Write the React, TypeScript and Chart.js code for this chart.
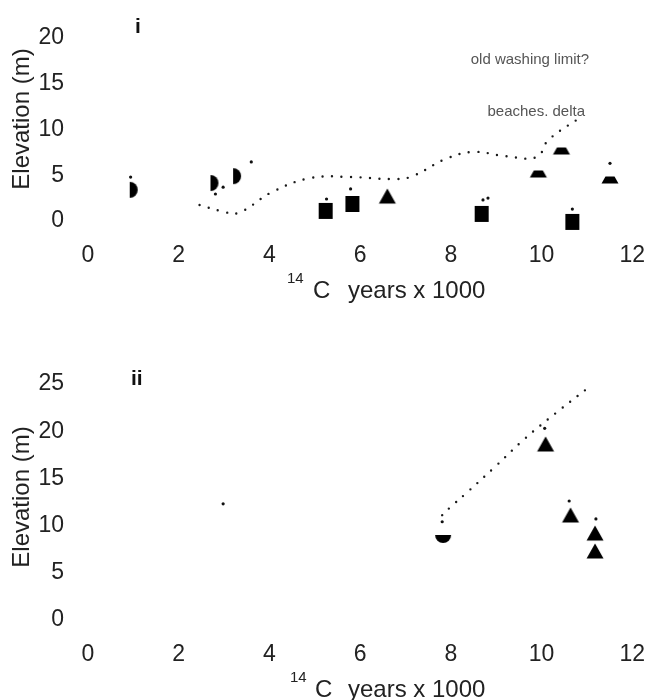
import React, { useEffect, useRef } from "react";
import { Chart, registerables } from "chart.js";

Chart.register(...registerables);

const FONT = "'Liberation Sans', Arial, Helvetica, sans-serif";
Chart.defaults.font.family = FONT;

// ---- axis ticks ----
const X_TICKS = [0, 2, 4, 6, 8, 10, 12];
const Y_TICKS_I = [0, 5, 10, 15, 20];
const Y_TICKS_II = [0, 5, 10, 15, 20, 25];

// ---- panel i data (14C years x 1000, elevation m) ----
const I_HALF_DISCS = [
  { x: 0.92, y: 3.4 },
  { x: 2.7, y: 4.15 },
  { x: 3.2, y: 4.9 },
];
const I_SQUARES = [
  { x: 5.24, y: 1.1 },
  { x: 5.83, y: 1.86 },
  { x: 8.68, y: 0.77 },
  { x: 10.68, y: -0.1 },
];
const I_TRIANGLES = [{ x: 6.6, y: 2.73 }];
const I_TRAPEZOIDS = [
  { x: 9.93, y: 5.14 },
  { x: 10.44, y: 7.65 },
  { x: 11.51, y: 4.48 },
];
const I_DOTS = [
  { x: 0.94, y: 4.8 },
  { x: 2.81, y: 2.95 },
  { x: 2.98, y: 3.7 },
  { x: 3.6, y: 6.45 },
  { x: 5.26, y: 2.4 },
  { x: 5.79, y: 3.5 },
  { x: 8.71, y: 2.3 },
  { x: 8.82, y: 2.5 },
  { x: 10.68, y: 1.3 },
  { x: 11.51, y: 6.3 },
];
const I_CURVE = [
  { x: 2.46, y: 1.75 },
  { x: 2.94, y: 1.09 },
  { x: 3.31, y: 0.87 },
  { x: 4.06, y: 3.17 },
  { x: 4.91, y: 4.7 },
  { x: 5.79, y: 4.81 },
  { x: 6.67, y: 4.59 },
  { x: 7.11, y: 4.81 },
  { x: 7.89, y: 6.78 },
  { x: 8.5, y: 7.55 },
  { x: 9.19, y: 7.1 },
  { x: 9.9, y: 7.0 },
  { x: 10.15, y: 8.85 },
  { x: 10.88, y: 11.4 },
];

// ---- panel ii data ----
const II_HALF_DISCS = [{ x: 7.83, y: 9.0 }];
const II_TRIANGLES = [
  { x: 10.09, y: 18.64 },
  { x: 10.64, y: 11.12 },
  { x: 11.18, y: 9.2 },
  { x: 11.18, y: 7.3 },
];
const II_DOTS = [
  { x: 10.07, y: 20.3 },
  { x: 10.61, y: 12.6 },
  { x: 11.2, y: 10.7 },
  { x: 7.81, y: 10.4 },
  { x: 2.98, y: 12.3 },
];
const II_CURVE = [
  { x: 7.81, y: 11.1 },
  { x: 7.98, y: 11.9 },
  { x: 8.31, y: 13.3 },
  { x: 8.97, y: 16.2 },
  { x: 9.63, y: 19.2 },
  { x: 10.31, y: 21.9 },
  { x: 11.03, y: 24.6 },
];

// ---- annotations ----
const NOTE_WASHING = { text: "old washing limit?", x: 11.05, y: 17.2 };
const NOTE_BEACHES = { text: "beaches. delta", x: 10.96, y: 11.5 };

function makeShape(kind: string): HTMLCanvasElement {
  const c = document.createElement("canvas");
  c.width = 20;
  c.height = 20;
  const g = c.getContext("2d")!;
  g.fillStyle = "#000";
  const cx = 10;
  const cy = 10;
  g.beginPath();
  if (kind === "halfRight") {
    g.moveTo(cx, cy - 8);
    g.arc(cx, cy, 8, -Math.PI / 2, Math.PI / 2);
    g.closePath();
  } else if (kind === "halfBottom") {
    g.moveTo(cx + 8, cy);
    g.arc(cx, cy, 8, 0, Math.PI);
    g.closePath();
  } else if (kind === "square") {
    g.rect(cx - 7, cy - 8, 14, 16);
  } else if (kind === "triangle") {
    g.moveTo(cx, cy - 7.5);
    g.lineTo(cx + 8.5, cy + 7.5);
    g.lineTo(cx - 8.5, cy + 7.5);
    g.closePath();
  } else if (kind === "trapezoid") {
    g.moveTo(cx - 4.5, cy - 3.5);
    g.lineTo(cx + 4.5, cy - 3.5);
    g.lineTo(cx + 8.5, cy + 3.5);
    g.lineTo(cx - 8.5, cy + 3.5);
    g.closePath();
  }
  g.fill();
  return c;
}

function markerSet(data: { x: number; y: number }[], shape: HTMLCanvasElement) {
  return {
    type: "scatter" as const,
    data,
    pointStyle: shape as any,
    pointRadius: 9,
    clip: false as any,
  };
}

function dotSet(data: { x: number; y: number }[]) {
  return {
    type: "scatter" as const,
    data,
    pointStyle: "circle" as const,
    pointRadius: 1.6,
    pointBorderWidth: 0,
    backgroundColor: "#111",
    borderWidth: 0,
    clip: false as any,
  };
}

function curveSet(data: { x: number; y: number }[]) {
  return {
    type: "line" as const,
    data,
    showLine: true,
    borderColor: "#1a1a1a",
    borderWidth: 2.4,
    borderDash: [0, 9.5],
    borderCapStyle: "round" as const,
    pointRadius: 0,
    tension: 0.4,
    fill: false,
    clip: false as any,
  };
}

type TextOpts = {
  panel: string;
  panelX: number;
  panelY: number;
  yTitleY: number;
  xTitleBase: number;
  supX: number;
  cX: number;
  yearsX: number;
  notes: { text: string; x: number; y: number }[];
};

function textPlugin(o: TextOpts) {
  return {
    id: "texts_" + o.panel,
    afterDraw(chart: any) {
      const ctx = chart.ctx as CanvasRenderingContext2D;
      ctx.save();
      ctx.fillStyle = "#111";
      ctx.textBaseline = "alphabetic";
      // panel label
      ctx.font = `bold 21px ${FONT}`;
      ctx.textAlign = "left";
      ctx.fillText(o.panel, o.panelX, o.panelY);
      // y title
      ctx.save();
      ctx.translate(22, o.yTitleY);
      ctx.rotate(-Math.PI / 2);
      ctx.textAlign = "center";
      ctx.textBaseline = "middle";
      ctx.fillStyle = "#222";
      ctx.font = `24px ${FONT}`;
      ctx.fillText("Elevation (m)", 0, 0);
      ctx.restore();
      // x title with superscript
      ctx.fillStyle = "#222";
      ctx.textAlign = "left";
      ctx.font = `15px ${FONT}`;
      ctx.fillText("14", o.supX, o.xTitleBase - 15);
      ctx.font = `24px ${FONT}`;
      ctx.fillText("C", o.cX, o.xTitleBase);
      ctx.fillText("years x 1000", o.yearsX, o.xTitleBase);
      // annotations
      const xs = chart.scales.x;
      const ys = chart.scales.y;
      ctx.font = `15px ${FONT}`;
      ctx.fillStyle = "#555";
      ctx.textAlign = "right";
      for (const n of o.notes) {
        ctx.fillText(n.text, xs.getPixelForValue(n.x), ys.getPixelForValue(n.y));
      }
      ctx.restore();
    },
  };
}

function buildConfig(
  datasets: any[],
  yTicks: number[],
  yMin: number,
  yMax: number,
  padTop: number,
  xHeight: number,
  plugin: any
): any {
  return {
    type: "scatter",
    data: { datasets },
    options: {
      animation: false,
      responsive: false,
      events: [],
      layout: { padding: { top: padTop, right: 17, left: 0, bottom: 0 } },
      plugins: {
        legend: { display: false },
        tooltip: { enabled: false },
      },
      scales: {
        x: {
          type: "linear",
          min: 0,
          max: 12,
          grid: { display: false, drawTicks: false },
          border: { display: false },
          ticks: { padding: 7, color: "#222", font: { size: 23, family: FONT } },
          afterBuildTicks: (s: any) => {
            s.ticks = X_TICKS.map((v) => ({ value: v }));
          },
          afterFit: (s: any) => {
            s.height = xHeight;
          },
        },
        y: {
          type: "linear",
          min: yMin,
          max: yMax,
          grid: { display: false, drawTicks: false },
          border: { display: false },
          ticks: { padding: 24, color: "#222", font: { size: 23, family: FONT } },
          afterBuildTicks: (s: any) => {
            s.ticks = yTicks.map((v) => ({ value: v }));
          },
          afterFit: (s: any) => {
            s.width = 88;
          },
        },
      },
    },
    plugins: [plugin],
  };
}

export default function App() {
  const ref1 = useRef<HTMLCanvasElement>(null);
  const ref2 = useRef<HTMLCanvasElement>(null);

  useEffect(() => {
    const halfRight = makeShape("halfRight");
    const halfBottom = makeShape("halfBottom");
    const square = makeShape("square");
    const triangle = makeShape("triangle");
    const trapezoid = makeShape("trapezoid");

    const ds1 = [
      markerSet(I_HALF_DISCS, halfRight),
      markerSet(I_SQUARES, square),
      markerSet(I_TRIANGLES, triangle),
      markerSet(I_TRAPEZOIDS, trapezoid),
      dotSet(I_DOTS),
      curveSet(I_CURVE),
    ];
    const ds2 = [
      markerSet(II_HALF_DISCS, halfBottom),
      markerSet(II_TRIANGLES, triangle),
      dotSet(II_DOTS),
      curveSet(II_CURVE),
    ];

    const c1 = new Chart(
      ref1.current!,
      buildConfig(
        ds1,
        Y_TICKS_I,
        -1.5,
        20,
        38,
        85.3,
        textPlugin({
          panel: "i",
          panelX: 135,
          panelY: 33,
          yTitleY: 119,
          xTitleBase: 298,
          supX: 287,
          cX: 313,
          yearsX: 348,
          notes: [NOTE_WASHING, NOTE_BEACHES],
        })
      )
    );
    const c2 = new Chart(
      ref2.current!,
      buildConfig(
        ds2,
        Y_TICKS_II,
        -1.5,
        25,
        44,
        66,
        textPlugin({
          panel: "ii",
          panelX: 131,
          panelY: 45,
          yTitleY: 157,
          xTitleBase: 357,
          supX: 290,
          cX: 315,
          yearsX: 348,
          notes: [],
        })
      )
    );
    return () => {
      c1.destroy();
      c2.destroy();
    };
  }, []);

  return (
    <div
      style={{
        position: "absolute",
        left: 0,
        top: 0,
        width: 652,
        height: 700,
        background: "#fff",
        overflow: "hidden",
      }}
    >
      <canvas
        ref={ref1}
        width={652}
        height={320}
        style={{ position: "absolute", left: 0, top: 0, width: 652, height: 320 }}
      />
      <canvas
        ref={ref2}
        width={652}
        height={360}
        style={{ position: "absolute", left: 0, top: 340, width: 652, height: 360 }}
      />
    </div>
  );
}
